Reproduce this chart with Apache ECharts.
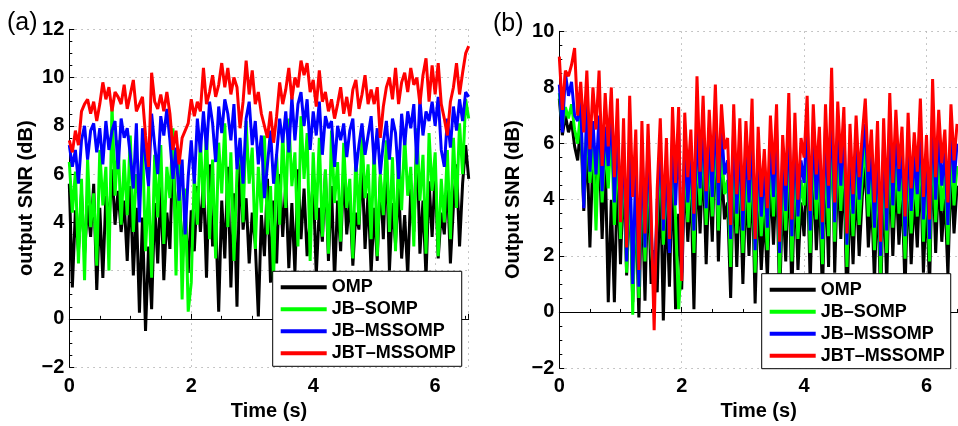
<!DOCTYPE html>
<html>
<head>
<meta charset="utf-8">
<script src="https://cdn.jsdelivr.net/npm/echarts@6/dist/echarts.min.js"></script>
<style>html,body{margin:0;padding:0;background:#fff}#c{width:958px;height:426px}</style>
</head>
<body>
<div id="c"></div>
<script>
// sample spacing (s)
const dt = 0.05;
const seriesNames = ['OMP', 'JB\u2013SOMP', 'JB\u2013MSSOMP', 'JBT\u2013MSSOMP'];
const seriesColors = ['#000000', '#00ff00', '#0000ff', '#ff0000'];
const xTicksA = [0, 2, 4, 6];
const yTicksA = [-2, 0, 2, 4, 6, 8, 10, 12];
const yTicksB = [-2, 0, 2, 4, 6, 8, 10];

// Panel (a)
const aOMP = [
5.6,1.3,4.5,2.8,5.2,2.7,4.7,3.4,5.6,1.2,
4.6,1.7,5.1,4.0,6.2,3.9,5.3,3.6,4.9,2.4,
5.5,1.8,4.6,0.25,4.2,-0.5,3.0,0.4,4.8,2.3,
5.6,1.6,4.4,2.9,7.2,3.4,5.8,2.2,4.6,1.9,
4.5,2.8,5.5,3.6,5.8,1.7,6.4,3.0,4.2,0.3,
4.9,2.5,6.3,1.3,5.2,0.5,6.7,3.7,5.0,2.3,
4.4,3.1,0.1,4.3,2.6,5.8,1.5,4.9,2.3,6.0,
3.4,5.6,2.1,4.8,1.9,6.2,3.3,5.4,2.6,4.1,
5.7,1.8,4.6,3.2,6.1,2.4,5.5,1.6,4.9,2.8,
6.3,3.5,5.0,2.2,4.4,3.7,6.5,2.9,5.2,1.9,
4.6,2.4,5.9,3.3,6.8,2.0,4.8,3.1,5.6,2.5,
4.3,1.8,5.4,3.6,7.6,2.7,4.9,1.7,5.7,3.4,
6.1,2.5,4.4,3.5,5.8,2.3,4.7,6.4,3.0,5.6,
7.2,5.8];
const aJBSOMP = [
6.5,4.4,6.1,2.3,5.8,1.6,6.6,3.8,5.2,2.2,
7.0,4.7,6.3,2.0,8.9,5.1,7.4,3.9,6.6,4.3,
7.6,3.6,6.0,4.9,7.4,2.8,5.5,1.7,6.8,4.2,
7.2,3.1,6.3,5.0,7.9,1.8,6.8,0.8,5.4,0.3,
1.5,6.0,3.9,7.5,4.6,7.9,3.3,6.6,2.5,7.3,
5.2,8.1,3.8,6.9,2.4,6.1,7.4,4.0,8.2,5.6,
7.1,2.9,6.3,4.4,7.6,3.5,5.5,1.6,6.8,3.9,
7.8,4.6,8.3,5.5,6.9,3.0,8.4,5.8,7.7,2.4,
6.9,4.1,7.5,3.4,6.2,2.7,7.8,4.8,6.5,3.2,
7.3,4.6,5.8,2.5,6.9,3.9,7.6,5.0,6.4,3.3,
7.2,2.6,6.0,4.3,7.4,3.6,6.7,2.8,7.0,4.5,
7.6,5.1,6.3,3.0,7.9,4.9,6.8,2.7,7.7,5.3,
6.9,2.6,5.8,4.0,7.0,3.3,7.5,4.6,8.1,6.0,
9.1,8.3];
const aJBMSSOMP = [
7.2,6.3,7.0,5.6,7.4,8.0,6.6,7.8,8.1,6.9,
7.9,6.4,8.2,7.0,7.8,8.2,6.2,8.3,7.5,7.9,
6.8,5.4,8.1,4.0,7.9,6.6,5.5,8.5,7.2,6.0,
8.4,7.6,8.7,7.4,5.8,7.1,4.9,6.6,3.5,5.9,
7.4,5.6,8.3,6.9,8.6,7.0,9.0,8.1,6.5,8.8,
7.7,9.1,8.5,7.4,8.9,6.2,7.5,5.6,8.3,9.0,
7.2,8.2,6.4,7.6,5.0,6.4,7.8,5.6,6.8,8.3,
7.3,8.6,6.9,9.2,7.4,8.9,9.4,8.0,9.1,7.0,
8.6,7.6,9.0,6.8,8.4,7.9,8.2,6.3,8.0,7.4,
8.1,6.7,7.8,8.3,6.1,7.2,8.1,6.8,7.6,8.4,
6.4,7.9,6.0,7.3,8.2,6.6,8.3,7.7,5.8,8.5,
7.2,8.6,7.9,8.9,6.4,9.1,7.6,8.6,8.2,9.0,
8.0,9.2,7.0,6.3,8.3,7.1,8.8,7.8,9.1,8.2,
9.4,9.2];
const aJBTMSSOMP = [
7.4,6.9,7.8,7.2,8.6,8.9,9.1,8.5,9.0,8.2,
8.9,9.8,9.1,9.6,8.6,9.4,9.2,8.9,9.7,8.7,
9.3,9.9,8.6,8.9,9.2,7.6,6.3,10.2,9.0,8.7,
9.3,8.6,9.4,8.5,7.0,7.8,6.4,7.5,7.8,8.1,
9.1,8.4,9.0,8.6,10.4,8.9,9.4,10.1,9.2,9.7,
10.6,9.6,10.4,9.3,10.0,9.6,7.9,9.0,10.7,9.3,
10.3,8.9,9.4,8.5,8.0,7.5,8.6,7.3,8.4,9.8,
8.9,9.5,10.4,9.1,10.0,9.6,10.7,10.1,10.6,9.4,
9.9,8.8,10.3,9.0,9.4,8.6,9.1,8.3,8.9,9.6,
8.5,9.2,8.4,9.5,9.9,8.7,9.3,10.1,8.9,9.5,
8.9,9.6,7.5,8.8,9.6,10.0,9.1,10.4,8.9,9.8,
10.2,9.4,10.4,9.7,10.0,8.9,10.1,10.8,9.0,10.5,
9.3,10.6,8.9,8.3,7.6,9.0,9.6,10.6,9.3,10.2,
11.0,11.3];

// Panel (b)
const bOMP = [
7.6,6.3,7.0,6.4,6.8,5.9,5.4,6.7,3.6,6.2,
2.3,5.6,3.9,5.9,2.6,5.5,0.35,4.0,0.35,5.0,
1.7,5.1,1.3,4.7,0.35,4.1,-0.2,4.6,0.4,4.9,
1.0,2.2,0.7,5.0,-0.3,4.1,0.9,5.2,0.1,3.5,
0.8,5.2,2.5,4.6,0.1,5.4,2.8,5.6,1.7,5.1,
2.5,6.6,1.8,5.2,3.3,3.9,0.5,5.2,1.6,4.8,
1.0,4.6,2.0,5.0,0.3,4.3,1.5,3.6,1.2,4.9,
2.4,5.1,0.4,4.2,1.8,5.4,0.6,4.9,1.5,3.9,
2.7,5.5,1.0,5.2,2.2,4.4,0.6,5.1,1.6,7.9,
1.4,5.2,2.6,5.3,0.1,4.4,1.7,4.7,2.0,4.1,
5.3,2.3,4.2,1.1,4.5,0.4,4.7,1.0,5.4,2.0,
4.9,2.4,4.3,0.8,4.8,1.7,4.2,2.3,5.3,1.4,
4.1,0.9,5.7,2.1,5.0,2.5,4.2,1.3,5.1,2.8,
4.5];
const bJBSOMP = [
7.8,6.6,7.3,6.9,7.4,6.5,6.0,7.2,3.8,6.8,
4.6,6.1,2.9,6.4,3.9,6.0,4.4,6.5,3.1,5.9,
2.6,5.7,1.4,5.4,-0.1,4.7,0.5,5.3,1.8,5.5,
2.3,1.2,3.3,5.6,2.4,4.8,2.5,5.7,3.3,0.1,
2.0,5.8,3.2,5.3,2.1,6.0,3.8,6.2,3.1,5.7,
3.4,6.6,2.9,5.9,4.2,4.7,1.6,5.9,2.8,5.4,
2.1,5.3,3.0,5.6,1.4,5.0,2.7,4.4,2.2,5.5,
3.4,5.8,1.3,4.9,2.9,6.1,1.8,5.6,2.6,4.7,
3.8,6.2,2.1,5.9,3.3,5.1,1.7,5.8,2.7,6.8,
2.5,5.9,3.6,5.9,1.6,5.1,2.7,5.4,3.1,4.8,
6.0,3.4,4.9,2.2,5.2,1.3,5.4,2.1,6.1,3.0,
5.6,3.5,5.0,1.9,5.5,2.8,4.9,3.4,6.0,2.5,
4.8,1.8,6.4,3.2,5.7,3.6,4.9,2.4,5.8,3.8,
5.2];
const bJBMSSOMP = [
8.1,6.4,8.5,7.7,8.2,7.0,6.8,7.6,3.7,7.4,
5.0,6.8,4.9,7.0,4.3,6.6,5.2,7.2,3.9,6.6,
3.4,6.1,1.8,6.0,1.0,5.2,0.9,5.9,2.3,6.1,
3.0,0.6,3.9,6.0,2.9,5.4,2.1,6.3,3.8,6.5,
1.4,6.2,3.9,5.7,2.9,6.6,4.4,6.7,3.7,6.3,
4.1,7.3,3.8,6.6,4.9,5.4,2.6,6.6,3.5,6.1,
2.9,6.0,3.9,6.4,2.2,5.8,3.4,5.1,3.0,6.2,
4.1,6.5,2.1,5.6,3.6,6.9,2.7,6.3,3.4,5.4,
4.6,6.9,2.9,6.6,4.0,5.8,2.6,6.6,3.7,7.5,
3.2,6.6,4.5,6.7,2.4,5.9,3.5,6.2,4.0,5.5,
6.7,4.2,5.7,3.0,5.9,2.0,6.1,2.9,6.9,3.8,
6.4,4.3,5.8,2.7,6.3,3.6,5.6,4.2,6.8,3.3,
5.5,2.6,7.2,4.0,6.4,4.5,5.7,3.1,6.6,4.6,
6.0];
const bJBTMSSOMP = [
9.1,7.2,8.6,8.4,8.8,9.4,7.0,8.2,6.4,8.6,
5.8,8.0,6.5,8.6,5.2,7.8,5.9,8.0,4.8,7.6,
3.2,6.9,2.3,7.7,4.1,6.5,1.5,6.8,2.8,6.7,
3.6,-0.65,4.4,6.9,3.3,6.2,2.6,7.3,4.6,7.3,
1.1,7.1,4.8,6.5,3.5,8.4,5.0,7.7,4.3,7.2,
5.0,8.1,4.6,7.4,5.8,6.2,3.1,7.4,4.2,6.9,
3.6,6.8,4.7,7.6,2.6,6.6,4.1,5.8,3.7,7.0,
4.9,7.4,2.5,6.3,4.5,7.8,3.3,7.1,4.0,6.2,
5.5,7.7,3.6,7.4,4.9,6.6,3.2,7.4,4.5,8.7,
3.9,7.5,5.3,7.3,2.8,6.7,4.2,7.0,4.8,6.3,
7.6,5.0,6.5,3.9,6.8,2.5,6.9,3.7,7.8,4.6,
7.2,5.1,6.6,3.4,7.1,4.4,6.4,5.0,7.6,4.1,
6.3,3.3,8.3,4.8,7.2,5.3,6.5,3.9,7.4,5.4,
6.7];

const panelA = [aOMP, aJBSOMP, aJBMSSOMP, aJBTMSSOMP];
const panelB = [bOMP, bJBSOMP, bJBMSSOMP, bJBTMSSOMP];

function pairs(arr) { return arr.map((v, i) => [+(i * dt).toFixed(2), v]); }

const FONT = '"Liberation Sans", Arial, Helvetica, sans-serif';
const gridLine = { show: true, lineStyle: { color: '#b4b4b4', type: [1.5, 4.5], width: 1 } };

function xAxis(gridIndex, max, nameGap, margin) {
  return {
    type: 'value', gridIndex, min: 0, max, interval: 2,
    name: 'Time (s)', nameLocation: 'middle', nameGap,
    nameTextStyle: { fontFamily: FONT, fontWeight: 'bold', fontSize: 20, color: '#000' },
    axisLine: { show: true, lineStyle: { color: '#000', width: 1 } },
    axisTick: { show: true, inside: true, length: 5, lineStyle: { color: '#000' } },
    minorTick: { show: true, splitNumber: 4, length: 3, lineStyle: { color: '#000' } },
    axisLabel: { fontFamily: FONT, fontWeight: 'bold', fontSize: 20, color: '#000', margin,
      showMaxLabel: false,
      formatter: v => (xTicksA.indexOf(v) >= 0 ? String(v) : '') },
    splitLine: gridLine
  };
}
function yAxis(gridIndex, min, max, name, nameGap, ticks) {
  return {
    type: 'value', gridIndex, min, max, interval: 2,
    name, nameLocation: 'middle', nameGap,
    nameTextStyle: { fontFamily: FONT, fontWeight: 'bold', fontSize: 20, color: '#000' },
    axisLine: { show: true, lineStyle: { color: '#000', width: 1 } },
    axisTick: { show: true, inside: true, length: 5, lineStyle: { color: '#000' } },
    minorTick: { show: true, splitNumber: 4, length: 3, lineStyle: { color: '#000' } },
    axisLabel: { fontFamily: FONT, fontWeight: 'bold', fontSize: 20, color: '#000', margin: 5,
      formatter: v => (ticks.indexOf(v) >= 0 ? String(v).replace('-', '\u2212') : '') },
    splitLine: gridLine
  };
}

const series = [];
panelA.forEach((arr, k) => series.push({
  type: 'line', name: seriesNames[k], xAxisIndex: 0, yAxisIndex: 0,
  data: pairs(arr), showSymbol: false, symbol: 'none',
  lineStyle: { color: seriesColors[k], width: 3 }, itemStyle: { color: seriesColors[k] },
  z: 2 + k, animation: false
}));
panelB.forEach((arr, k) => series.push({
  type: 'line', name: seriesNames[k], xAxisIndex: 1, yAxisIndex: 1,
  data: pairs(arr), showSymbol: false, symbol: 'none',
  lineStyle: { color: seriesColors[k], width: 3 }, itemStyle: { color: seriesColors[k] },
  z: 2 + k, animation: false
}));

function legend(left, top) {
  return {
    left, top, orient: 'vertical', data: seriesNames,
    icon: 'rect', itemWidth: 46, itemHeight: 4, itemGap: 4,
    padding: [7, 6, 4, 8], backgroundColor: '#fff', borderColor: '#000', borderWidth: 1,
    borderRadius: 0, selectedMode: false, z: 20,
    textStyle: { fontFamily: FONT, fontWeight: 'bold', fontSize: 18, color: '#000', lineHeight: 18, padding: [0, 0, 0, 0] }
  };
}

const chart = echarts.init(document.getElementById('c'), null, { renderer: 'canvas' });
chart.setOption({
  animation: false,
  backgroundColor: '#fff',
  grid: [
    { left: 69.3, top: 29.3, width: 399.4, height: 344 },
    { left: 559.3, top: 31.3, width: 398.7, height: 345.7 }
  ],
  xAxis: [xAxis(0, 6.55, 26, 9), xAxis(1, 6.515, 22, 8)],
  yAxis: [
    yAxis(0, -2, 12, 'output SNR (dB)', 33, yTicksA),
    yAxis(1, -2, 10, 'Output SNR (dB)', 36, yTicksB)
  ],
  legend: [legend(272.7, 271.3), legend(761.7, 273.7)],
  graphic: [
    { type: 'text', left: 7, top: 11, style: { text: '(a)', font: '25px ' + FONT, fill: '#000' } },
    { type: 'text', left: 493, top: 12, style: { text: '(b)', font: '25px ' + FONT, fill: '#000' } }
  ],
  series
});
</script>
</body>
</html>
